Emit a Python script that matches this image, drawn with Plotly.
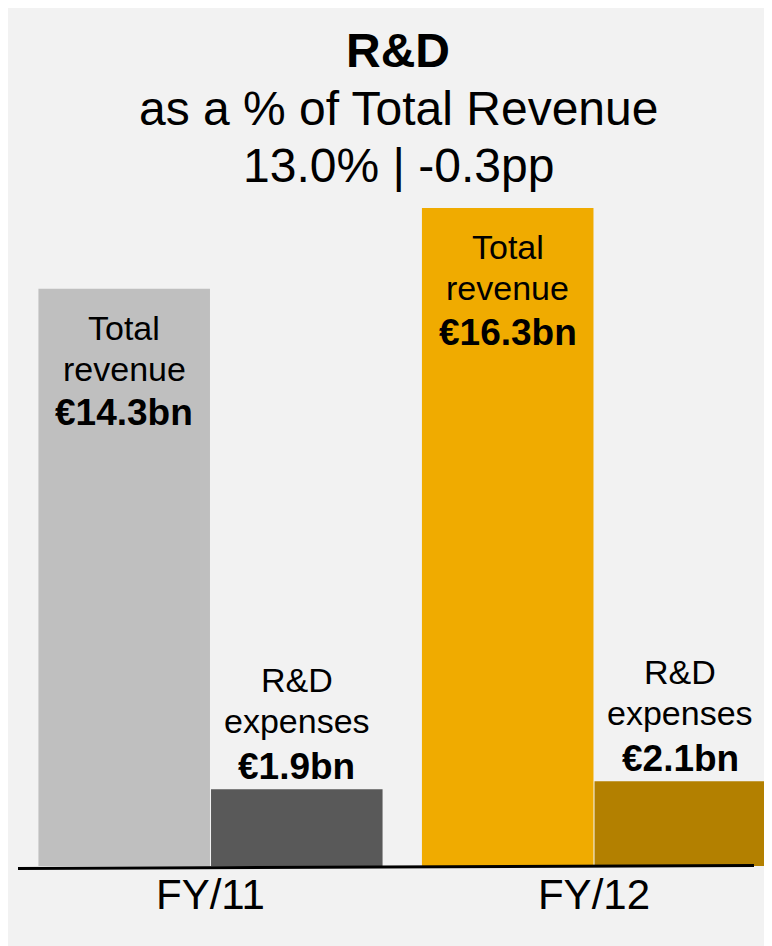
import plotly.graph_objects as go

# ---- data ----
categories = ["FY/11", "FY/12"]
revenue = [14.3, 16.3]
rnd = [1.9, 2.1]
revenue_label = ["Total", "revenue"]
rnd_label = ["R&D", "expenses"]
revenue_colors = ["#bfbfbf", "#f0ab00"]
rnd_colors = ["#595959", "#b38000"]
title_lines = ["<b>R&D</b>", "as a % of Total Revenue", "13.0% | -0.3pp"]

FONT = "Liberation Sans, Arial, Helvetica, sans-serif"
W, H = 764, 938
TOP, BOTTOM = 192, 80
BARGAP = 0.1
YMAX = 16.5

fig = go.Figure()
fig.add_trace(go.Bar(x=categories, y=revenue, marker=dict(color=revenue_colors, line=dict(width=0)),
                     name="Total revenue", hoverinfo="skip"))
fig.add_trace(go.Bar(x=categories, y=rnd, marker=dict(color=rnd_colors, line=dict(width=0)),
                     name="R&D expenses", hoverinfo="skip"))

plot_h = H - TOP - BOTTOM

off = (1 - BARGAP) / 4
annotations = []
# title lines (figure-pixel centres converted to paper coordinates)
for text, fy in zip(title_lines, [42, 100, 158]):
    annotations.append(dict(x=390 / W, y=1 + (TOP - fy) / plot_h, xref="paper", yref="paper",
                            text=text, showarrow=False, xanchor="center", yanchor="middle",
                            font=dict(family=FONT, size=48, color="black")))
for i, cat in enumerate(categories):
    xr = i - off
    for text, shift, size in [(revenue_label[0], -39, 34), (revenue_label[1], -80, 34),
                              (f"<b>€{revenue[i]:.1f}bn</b>", -124, 37)]:
        annotations.append(dict(x=xr, y=revenue[i], xref="x", yref="y", text=text, showarrow=False,
                                yanchor="middle", xanchor="center", yshift=shift,
                                font=dict(family=FONT, size=size, color="black")))
    xd = i + off
    for text, shift, size in [(rnd_label[0], 109, 34), (rnd_label[1], 68, 34),
                              (f"<b>€{rnd[i]:.1f}bn</b>", 23, 37)]:
        annotations.append(dict(x=xd, y=rnd[i], xref="x", yref="y", text=text, showarrow=False,
                                yanchor="middle", xanchor="center", yshift=shift,
                                font=dict(family=FONT, size=size, color="black")))

shapes = [
    dict(type="line", xref="paper", yref="paper", x0=10 / W, x1=746 / W,
         y0=-2.5 / plot_h, y1=0.5 / plot_h,
         line=dict(color="black", width=3), layer="above"),
]

spacing = 383.5
c0 = 202.5
fig.update_layout(
    width=W, height=H,
    margin=dict(l=0, r=0, t=TOP, b=BOTTOM, pad=0),
    paper_bgcolor="#f2f2f2", plot_bgcolor="rgba(0,0,0,0)",
    barmode="group", bargap=BARGAP, bargroupgap=0.006,
    showlegend=False,
    xaxis=dict(type="category", range=[-c0 / spacing, (W - c0) / spacing],
               showgrid=False, zeroline=False, showline=False, ticks="",
               tickfont=dict(family=FONT, size=42, color="black")),
    yaxis=dict(range=[0, YMAX], visible=False, showgrid=False, zeroline=False),
    annotations=annotations,
    shapes=shapes,
)

fig.write_html("out.html")
